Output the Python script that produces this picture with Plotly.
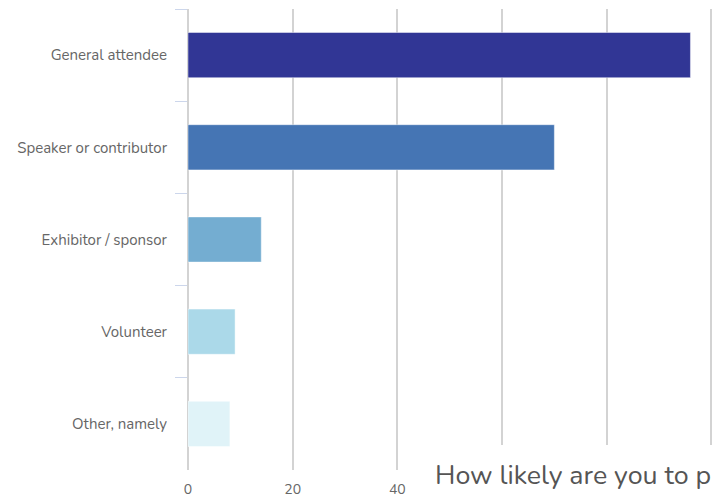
import plotly.graph_objects as go

# Survey responses per role
categories = ["General attendee", "Speaker or contributor", "Exhibitor / sponsor",
              "Volunteer", "Other, namely"]
counts = [96, 70, 14, 9, 8]
bar_colors = ["#313695", "#4575b4", "#74add1", "#abd9e9", "#e0f3f8"]

# Gridlines every 20; labels beyond 40 sit behind the title box
x_tick_vals = [0, 20, 40, 60, 80, 100]
x_tick_text = ["0", "20", "40", "", "", ""]
title_text = "How likely are you to p"

FONT = "Nunito, Lato, sans-serif"

fig = go.Figure(
    go.Bar(
        x=counts,
        y=categories,
        orientation="h",
        marker=dict(color=bar_colors, line=dict(color="rgba(255,255,255,0.45)", width=1)),
        hoverinfo="x+y",
    )
)

W, H = 714, 499
ML, MR, MT, MB = 188, 0, 9, 29
pw, ph = W - ML - MR, H - MT - MB

def px_x(px):
    return (px - ML) / pw

def px_y(py):
    return (H - MB - py) / ph

fig.update_layout(
    width=W,
    height=H,
    margin=dict(l=ML, r=MR, t=MT, b=MB, pad=0),
    paper_bgcolor="white",
    plot_bgcolor="white",
    bargap=0.51,
    showlegend=False,
    font=dict(family=FONT, color="#666666", size=15),
    xaxis=dict(
        range=[0, 100.5],
        tickvals=x_tick_vals,
        ticktext=x_tick_text,
        showgrid=True,
        gridcolor="#d3d3d3",
        gridwidth=1.5,
        zeroline=True,
        zerolinecolor="#d3d3d3",
        zerolinewidth=1.5,
        showline=False,
        ticks="",
        tickfont=dict(size=14, color="#666666"),
        ticklabelstandoff=9,
        fixedrange=True,
    ),
    yaxis=dict(
        autorange="reversed",
        categoryorder="array",
        categoryarray=categories,
        showgrid=False,
        showline=False,
        zeroline=False,
        ticks="outside",
        tickson="boundaries",
        ticklen=12,
        tickwidth=1,
        tickcolor="#ccd6eb",
        tickfont=dict(size=15, color="#666666"),
        ticklabelstandoff=20,
        fixedrange=True,
    ),
    shapes=[
        dict(
            type="rect", xref="paper", yref="paper", layer="above",
            x0=px_x(420), x1=px_x(716), y0=px_y(445), y1=px_y(500),
            fillcolor="white", line=dict(width=0),
        )
    ],
    annotations=[
        dict(
            text=title_text, xref="paper", yref="paper",
            x=px_x(433), y=px_y(475), xanchor="left", yanchor="middle",
            showarrow=False, font=dict(family=FONT, size=26.8, color="#555555"),
        )
    ],
)

fig.write_html("out.html", config={"displayModeBar": False})
